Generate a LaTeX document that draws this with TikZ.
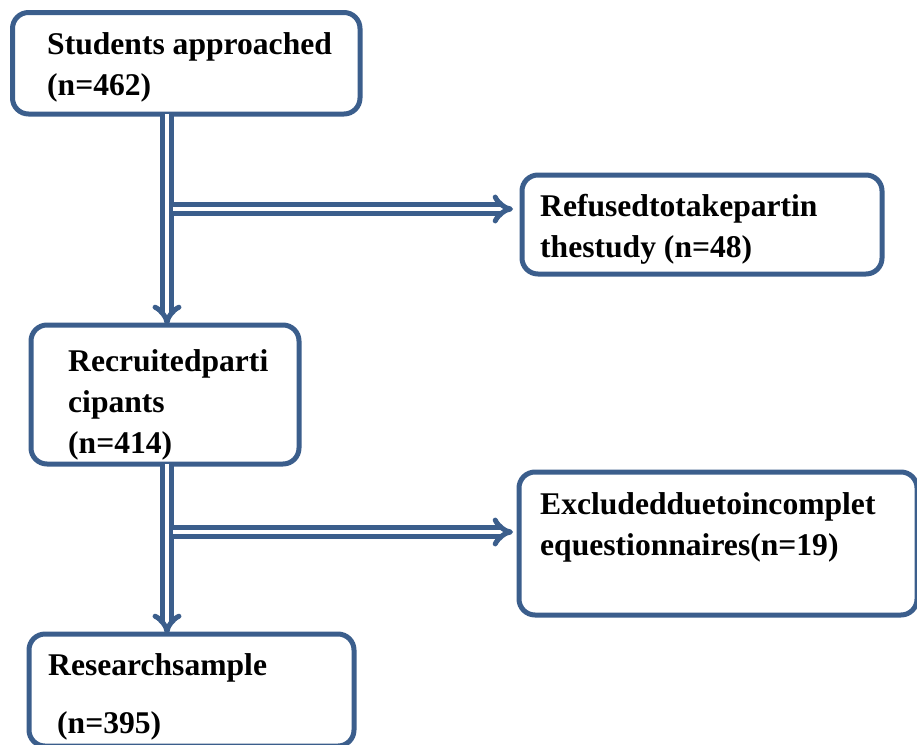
\documentclass[tikz,border=0pt]{standalone}
\usepackage{fontspec}
\setmainfont{Liberation Serif}
\usetikzlibrary{arrows.meta}
\definecolor{B1}{RGB}{59,94,140}

\begin{document}
\begin{tikzpicture}[x=1pt, y=-1pt,
    box/.style={draw=B1, line width=5pt, rounded corners=16pt, anchor=north west, outer sep=0pt, inner sep=0pt},
    txt/.style={anchor=base west, align=left, inner sep=0pt, font=\bfseries\fontsize{31.6}{41}\selectfont},
    dbl/.style={draw=B1, double=white, line width=5pt, double distance=4pt, -{Implies[scale=1.7]}}]
  \useasboundingbox (0,0) rectangle (917,744);
  % boxes
  \node[box, minimum width=347.5pt, minimum height=101.5pt] (approached) at (12.5,12.5) {};
  \node[box, minimum width=360pt, minimum height=99pt] (refused) at (522,175) {};
  \node[box, minimum width=268pt, minimum height=139pt] (recruited) at (31,325) {};
  \node[box, minimum width=398pt, minimum height=143pt] (excluded) at (519,472) {};
  \node[box, minimum width=325pt, minimum height=112pt] (sample) at (29,634) {};
  % texts (base = last line)
  \node[txt] (approachedtxt) at (47,95) {Students approached\\(n=462)};
  \node[txt] (refusedtxt) at (540,257) {Refusedtotakepartin\\thestudy (n=48)};
  \node[txt] (recruitedtxt) at (68,453) {Recruitedparti\\cipants\\(n=414)};
  \node[txt] (excludedtxt) at (540,555) {Excludedduetoincomplet\\equestionnaires(n=19)};
  \node[txt] (sampletxt) at (48,733) {Researchsample\\[17pt]\hspace{9pt}(n=395)};
  % arrows
  \coordinate (t1) at (167,209);
  \coordinate (t2) at (167,532);
  \draw[dbl] (approached.south -| t1) -- (recruited.north -| t1);
  \draw[dbl] ([xshift=6pt]t1) -- ([xshift=-9pt]t1 -| refused.west);
  \draw[dbl] (recruited.south -| t2) -- (sample.north -| t2);
  \draw[dbl] ([xshift=6pt]t2) -- ([xshift=-6pt]t2 -| excluded.west);
\end{tikzpicture}
\end{document}
